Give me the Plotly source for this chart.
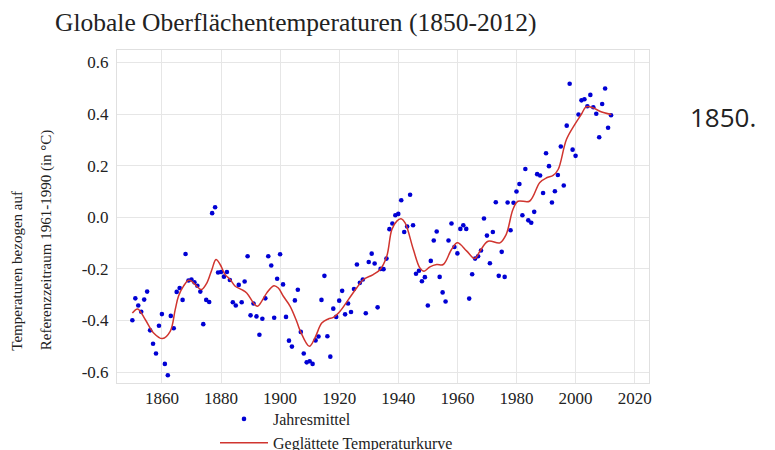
import plotly.graph_objects as go

# ---- data ----
years = list(range(1850, 2013))
annual_means = [
    -0.399, -0.314, -0.342, -0.366, -0.319, -0.288, -0.438, -0.490, -0.528, -0.420,  # 1850-1859
    -0.375, -0.568, -0.612, -0.382, -0.430, -0.289, -0.274, -0.320, -0.142, -0.245,  # 1860-1869
    -0.241, -0.252, -0.265, -0.288, -0.414, -0.320, -0.328, 0.016, 0.039, -0.214,    # 1870-1879
    -0.212, -0.230, -0.212, -0.243, -0.329, -0.342, -0.262, -0.329, -0.249, -0.151,  # 1880-1889
    -0.380, -0.334, -0.384, -0.455, -0.393, -0.314, -0.151, -0.187, -0.389, -0.238,  # 1890-1899
    -0.143, -0.260, -0.386, -0.478, -0.501, -0.322, -0.281, -0.444, -0.528, -0.562,  # 1900-1909
    -0.558, -0.568, -0.477, -0.462, -0.320, -0.227, -0.461, -0.540, -0.354, -0.386,  # 1910-1919
    -0.323, -0.285, -0.376, -0.334, -0.367, -0.278, -0.183, -0.254, -0.241, -0.372,  # 1920-1929
    -0.173, -0.141, -0.179, -0.349, -0.200, -0.201, -0.160, -0.046, -0.024, 0.008,   # 1930-1939
    0.013, 0.066, -0.057, -0.036, 0.087, -0.031, -0.219, -0.207, -0.248, -0.232,     # 1940-1949
    -0.342, -0.169, -0.090, -0.055, -0.231, -0.291, -0.326, -0.090, -0.024, -0.115,  # 1950-1959
    -0.140, -0.045, -0.031, -0.045, -0.315, -0.221, -0.160, -0.151, -0.129, -0.005,  # 1960-1969
    -0.071, -0.178, -0.057, 0.058, -0.227, -0.134, -0.231, 0.057, -0.050, 0.056,     # 1970-1979
    0.100, 0.129, 0.008, 0.187, -0.012, -0.021, 0.021, 0.167, 0.162, 0.094,          # 1980-1989
    0.248, 0.198, 0.057, 0.101, 0.164, 0.274, 0.123, 0.355, 0.517, 0.262,            # 1990-1999
    0.238, 0.398, 0.453, 0.457, 0.430, 0.474, 0.426, 0.401, 0.310, 0.439,            # 2000-2009
    0.499, 0.347, 0.395,                                                             # 2010-2012
]

smooth_years = [
    1850.0, 1851.8, 1854.4, 1857.2, 1860.2, 1862.8, 1864.5, 1865.6, 1867.3, 1869.0,
    1870.1, 1872.4, 1873.5, 1875.2, 1876.9, 1878.3, 1879.7, 1881.4, 1883.1, 1884.8,
    1887.0, 1888.7, 1891.0, 1892.3, 1893.8, 1895.5, 1897.9, 1899.4, 1901.1, 1903.4,
    1905.6, 1906.8, 1909.9, 1911.8, 1914.1, 1916.3, 1918.0, 1920.3, 1923.1, 1925.9,
    1928.2, 1931.5, 1933.8, 1936.1, 1937.8, 1939.5, 1940.9, 1942.3, 1945.1, 1947.3,
    1948.7, 1950.7, 1953.0, 1955.2, 1958.0, 1960.0, 1963.1, 1965.9, 1967.6, 1970.4,
    1974.4, 1976.5, 1978.8, 1980.5, 1984.4, 1987.9, 1990.2, 1992.4, 1994.1, 1996.9,
    1999.7, 2001.9, 2003.6, 2005.9, 2008.2, 2012.1,
]
smooth_values = [
    -0.371, -0.355, -0.397, -0.448, -0.470, -0.442, -0.358, -0.306, -0.267, -0.244,
    -0.248, -0.274, -0.280, -0.255, -0.203, -0.164, -0.183, -0.222, -0.241, -0.267,
    -0.280, -0.293, -0.332, -0.345, -0.325, -0.293, -0.265, -0.274, -0.306, -0.345,
    -0.403, -0.440, -0.500, -0.467, -0.410, -0.394, -0.388, -0.364, -0.319, -0.274,
    -0.241, -0.222, -0.203, -0.151, -0.048, -0.015, -0.006, -0.022, -0.125, -0.196,
    -0.209, -0.192, -0.183, -0.183, -0.125, -0.099, -0.130, -0.160, -0.132, -0.093,
    -0.099, -0.067, 0.030, 0.062, 0.062, 0.135, 0.153, 0.162, 0.185, 0.301,
    0.359, 0.398, 0.428, 0.424, 0.411, 0.398,
]

x_tick_vals = [1860, 1880, 1900, 1920, 1940, 1960, 1980, 2000, 2020]
x_tick_text = ["1860", "1880", "1900", "1920", "1940", "1960", "1980", "2000", "2020"]
y_tick_vals = [-0.6, -0.4, -0.2, 0.0, 0.2, 0.4, 0.6]
y_tick_text = ["-0.6", "-0.4", "-0.2", "0.0", "0.2", "0.4", "0.6"]

title_text = "Globale Oberflächentemperaturen (1850-2012)"
y_label_1 = "Temperaturen bezogen auf"
y_label_2 = "Referenzzeitraum 1961-1990 (in °C)"
name_points = "Jahresmittel"
name_curve = "Geglättete Temperaturkurve"
side_text = "1850."

SERIF = "Liberation Serif"

fig = go.Figure()
fig.add_trace(go.Scatter(
    x=years, y=annual_means, mode="markers", name=name_points,
    marker=dict(color="#0000d4", size=4.6, line=dict(width=0)),
    legendgroup="a",
))
fig.add_trace(go.Scatter(
    x=smooth_years, y=smooth_values, mode="lines", name=name_curve,
    line=dict(color="#d0352f", width=1.5, shape="spline", smoothing=1.0),
    legendgroup="b",
))

L, R, T, B = 117, 126, 50, 67
W, H = 775, 450
pw, ph = W - L - R, H - T - B

def px_x(p):
    return (p - L) / pw

def px_y(p):
    return (H - B - p) / ph

fig.update_layout(
    width=W, height=H,
    margin=dict(l=L, r=R, t=T, b=B, autoexpand=False),
    paper_bgcolor="white", plot_bgcolor="white",
    title=dict(text=title_text, x=55 / W, xanchor="left", xref="container",
               y=1 - 22 / H, yanchor="middle",
               font=dict(family=SERIF, size=25.5, color="#222222")),
    showlegend=True,
    legend=dict(
        x=px_x(215), y=px_y(402), xanchor="left", yanchor="top",
        font=dict(family=SERIF, size=16, color="#222222"),
        bgcolor="rgba(0,0,0,0)", traceorder="grouped", tracegroupgap=0,
        itemwidth=48,
    ),
    xaxis=dict(
        range=[1844.8, 2024.85], tickvals=x_tick_vals, ticktext=x_tick_text,
        showgrid=True, gridcolor="#e6e6e6", gridwidth=1, zeroline=False,
        showline=True, linecolor="#e0e0e0", linewidth=1, mirror=True,
        ticks="", tickfont=dict(family=SERIF, size=17, color="#222222"),
    ),
    yaxis=dict(
        range=[-0.642, 0.648], tickvals=y_tick_vals, ticktext=y_tick_text,
        showgrid=True, gridcolor="#e6e6e6", gridwidth=1, zeroline=False,
        showline=True, linecolor="#e0e0e0", linewidth=1, mirror=True,
        ticks="", tickfont=dict(family=SERIF, size=17, color="#222222"),
        ticklabelstandoff=4,
    ),
    annotations=[
        dict(text=y_label_1, xref="paper", yref="paper", x=px_x(16.7), y=px_y(353),
             xanchor="center", yanchor="bottom", textangle=-90, showarrow=False,
             font=dict(family=SERIF, size=15, color="#222222")),
        dict(text=y_label_2, xref="paper", yref="paper", x=px_x(46.7), y=px_y(352),
             xanchor="center", yanchor="bottom", textangle=-90, showarrow=False,
             font=dict(family=SERIF, size=15, color="#222222")),
        dict(text=side_text, xref="paper", yref="paper", x=px_x(688), y=px_y(117),
             xanchor="left", yanchor="middle", showarrow=False,
             font=dict(family="Open Sans", size=26, color="#222222")),
    ],
)

fig.write_html(
    "out.html",
    config={"displayModeBar": False},
    post_script="document.body.style.margin='0';document.body.style.overflow='hidden';",
)
